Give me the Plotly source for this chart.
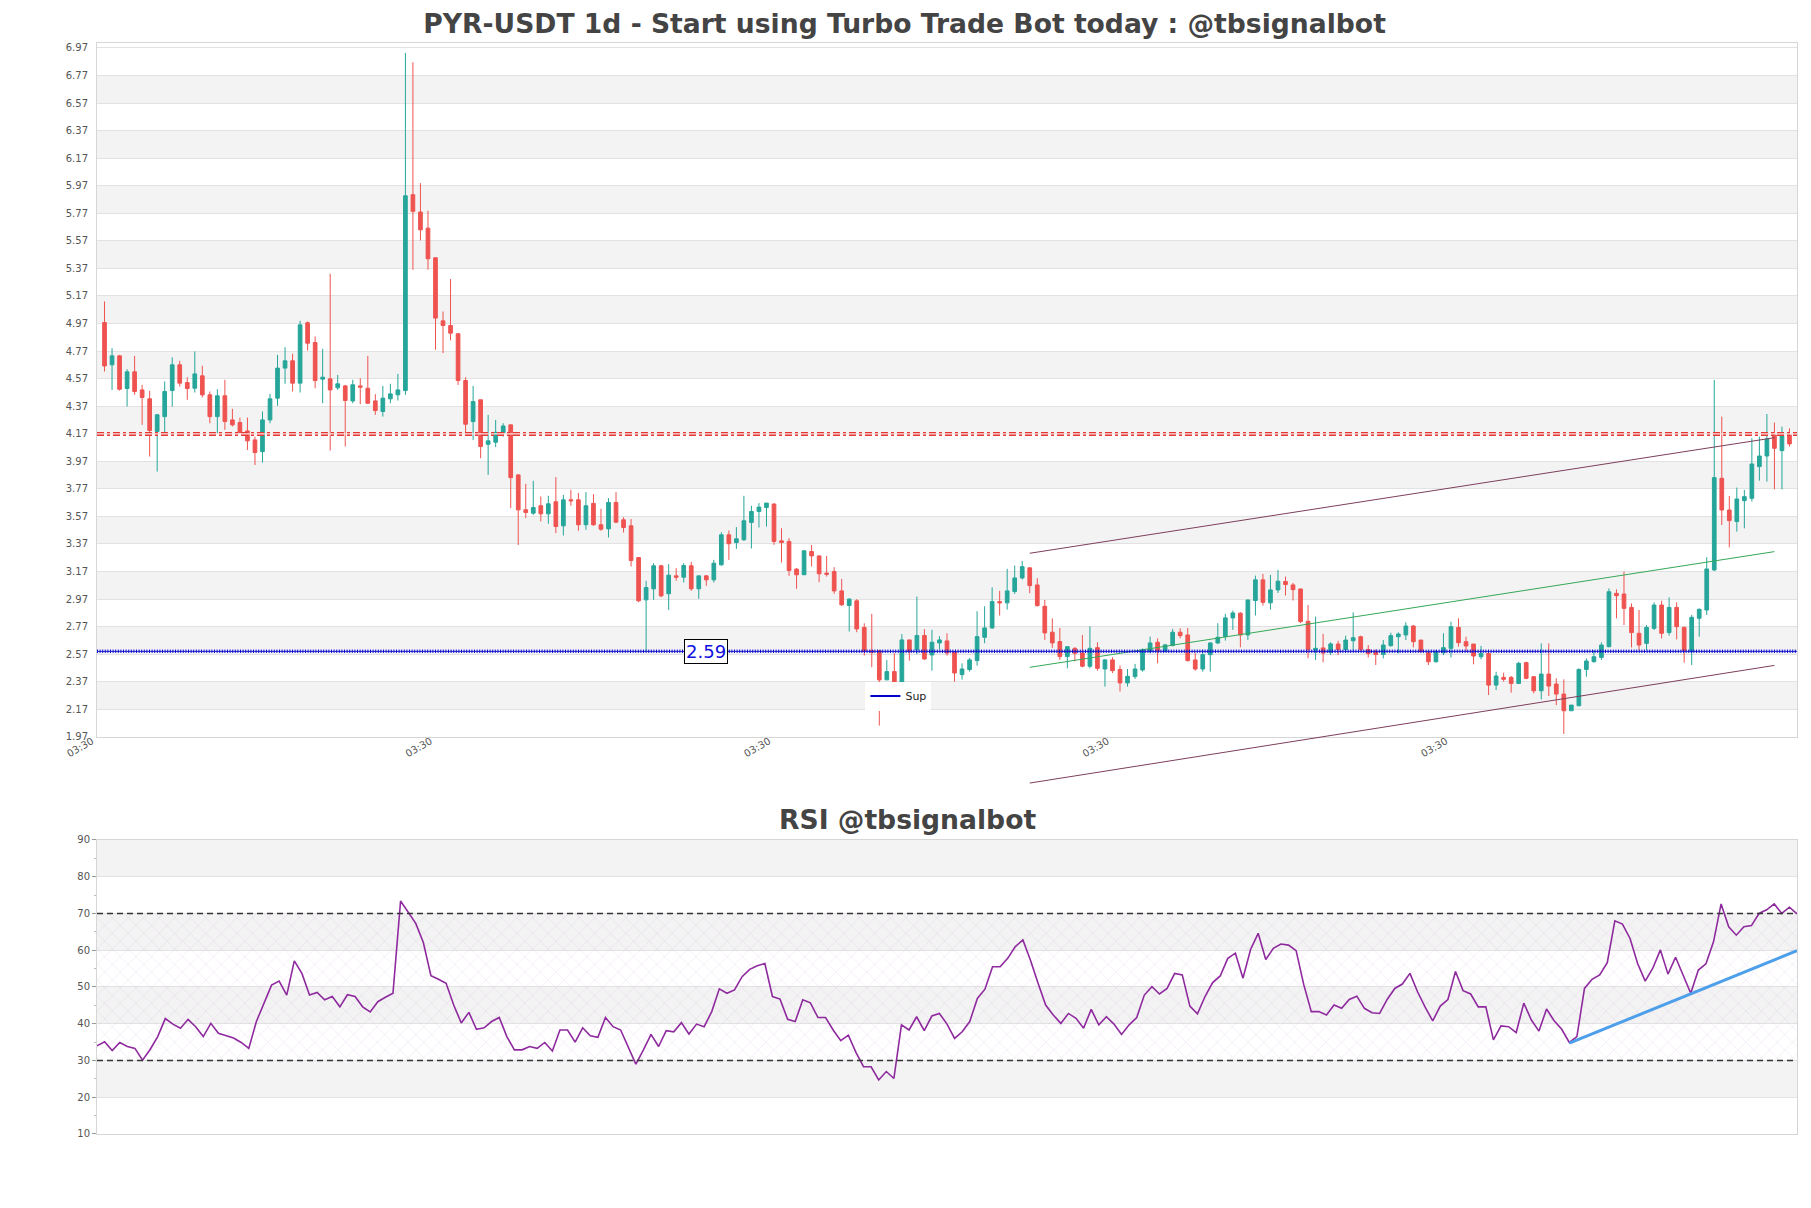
import plotly.graph_objects as go

# ---------------- data ----------------
open_ = [4.977,4.670,4.735,4.498,4.619,4.488,4.423,4.186,4.294,4.483,4.670,4.541,4.500,4.590,4.452,4.294,4.445,4.270,4.251,4.190,
         4.125,4.040,4.270,4.428,4.646,4.699,4.537,4.975,4.832,4.566,4.568,4.503,4.517,4.408,4.517,4.500,4.408,4.331,4.423,4.452,
         4.483,5.905,5.779,5.662,5.447,4.989,4.955,4.895,4.556,4.258,4.416,4.093,4.108,4.178,4.234,3.871,3.618,3.593,3.647,3.588,
         3.676,3.501,3.690,3.690,3.509,3.664,3.509,3.479,3.671,3.545,3.501,3.271,2.964,3.044,3.211,3.008,3.138,3.128,3.211,3.044,
         3.138,3.109,3.218,3.436,3.380,3.400,3.526,3.605,3.634,3.659,3.392,3.388,3.187,3.146,3.315,3.283,3.158,3.170,3.029,2.923,
         2.957,2.763,2.594,2.594,2.383,2.443,2.339,2.673,2.601,2.705,2.564,2.651,2.666,2.588,2.421,2.458,2.523,2.692,2.760,2.951,
         2.942,3.024,3.123,3.196,3.072,2.917,2.729,2.661,2.552,2.612,2.578,2.482,2.617,2.462,2.528,2.458,2.361,2.407,2.455,2.588,
         2.656,2.591,2.632,2.729,2.709,2.528,2.462,2.566,2.651,2.697,2.833,2.867,2.709,2.959,3.109,2.942,3.036,3.097,3.072,3.043,
         2.808,2.600,2.615,2.583,2.643,2.604,2.667,2.696,2.604,2.588,2.568,2.631,2.696,2.709,2.774,2.672,2.580,2.515,2.580,2.612,
         2.764,2.660,2.643,2.551,2.575,2.345,2.401,2.401,2.357,2.508,2.406,2.304,2.425,2.353,2.280,2.159,2.195,2.459,2.515,2.546,
         2.624,3.011,3.006,2.909,2.721,2.648,2.757,2.926,2.726,2.909,2.764,2.588,2.830,2.890,3.181,3.846,3.616,3.532,3.684,3.701,
         3.931,4.008,4.161,4.047,4.161]
high = [5.130,4.791,4.742,4.638,4.735,4.525,4.481,4.314,4.549,4.725,4.699,4.580,4.767,4.663,4.476,4.493,4.561,4.350,4.287,4.287,
        4.149,4.331,4.459,4.742,4.798,4.750,4.989,4.985,4.876,4.786,5.331,4.597,4.525,4.561,4.573,4.735,4.457,4.517,4.532,4.604,
        6.934,6.866,5.989,5.788,5.452,5.057,5.292,4.900,4.580,4.517,4.416,4.307,4.270,4.246,4.234,3.876,3.806,3.828,3.714,3.719,
        3.855,3.726,3.763,3.739,3.746,3.731,3.625,3.702,3.746,3.564,3.550,3.274,3.102,3.230,3.218,3.223,3.194,3.230,3.240,3.138,
        3.143,3.254,3.455,3.467,3.492,3.719,3.647,3.666,3.666,3.666,3.484,3.412,3.194,3.320,3.363,3.283,3.283,3.201,3.116,2.976,
        2.969,2.794,2.862,2.601,2.528,2.577,2.715,2.673,2.988,2.751,2.746,2.700,2.721,2.591,2.503,2.542,2.881,2.917,3.055,3.029,
        3.189,3.213,3.247,3.201,3.121,2.963,2.830,2.760,2.627,2.620,2.709,2.772,2.656,2.535,2.547,2.487,2.462,2.499,2.612,2.697,
        2.685,2.644,2.753,2.758,2.760,2.579,2.603,2.656,2.794,2.862,2.886,2.874,2.966,3.140,3.152,3.145,3.181,3.133,3.087,3.043,
        2.927,2.842,2.717,2.656,2.667,2.704,2.873,2.704,2.636,2.604,2.672,2.725,2.728,2.801,2.781,2.672,2.588,2.600,2.721,2.805,
        2.830,2.696,2.643,2.629,2.580,2.442,2.435,2.411,2.515,2.515,2.411,2.648,2.648,2.394,2.387,2.200,2.466,2.539,2.600,2.655,
        3.047,3.040,3.169,2.938,2.890,2.781,2.946,2.958,2.982,2.946,2.769,2.854,2.902,3.273,4.560,4.294,3.718,3.779,3.762,4.137,
        4.149,4.313,4.251,4.221,4.209]
low = [4.621,4.488,4.483,4.367,4.452,4.234,4.004,3.895,4.178,4.367,4.512,4.416,4.469,4.433,4.246,4.173,4.198,4.222,4.169,4.052,
       3.943,3.960,4.246,4.372,4.532,4.476,4.469,4.774,4.500,4.391,4.048,4.488,4.077,4.391,4.384,4.386,4.307,4.294,4.391,4.411,
       4.452,5.360,5.573,5.360,4.779,4.755,4.847,4.524,4.173,4.125,3.992,3.871,4.072,4.149,3.629,3.362,3.557,3.581,3.533,3.516,
       3.448,3.431,3.647,3.465,3.472,3.501,3.465,3.417,3.521,3.453,3.206,2.947,2.594,2.964,2.983,2.891,3.102,3.090,3.029,2.971,
       3.066,3.090,3.211,3.254,3.334,3.392,3.337,3.489,3.496,3.363,3.235,3.138,3.044,3.146,3.206,3.092,3.133,3.008,2.920,2.734,
       2.729,2.560,2.475,2.051,2.383,2.335,2.335,2.523,2.569,2.528,2.450,2.603,2.559,2.370,2.385,2.443,2.486,2.649,2.753,2.850,
       2.893,3.007,3.111,3.012,2.915,2.673,2.615,2.528,2.467,2.518,2.474,2.467,2.450,2.334,2.433,2.298,2.334,2.390,2.443,2.576,
       2.503,2.583,2.627,2.685,2.516,2.450,2.443,2.443,2.644,2.668,2.746,2.620,2.673,2.850,2.922,2.893,3.014,2.995,2.959,2.796,
       2.540,2.528,2.511,2.564,2.563,2.580,2.588,2.588,2.546,2.491,2.539,2.624,2.575,2.672,2.619,2.580,2.491,2.508,2.563,2.546,
       2.624,2.588,2.496,2.532,2.273,2.309,2.370,2.290,2.353,2.387,2.285,2.241,2.266,2.200,1.990,2.159,2.193,2.406,2.508,2.527,
       2.619,2.830,2.781,2.619,2.600,2.600,2.745,2.684,2.704,2.677,2.508,2.491,2.696,2.854,3.173,3.507,3.345,3.459,3.483,3.677,
       3.829,3.822,3.766,3.766,4.076]
close = [4.662,4.735,4.493,4.619,4.476,4.433,4.193,4.307,4.476,4.670,4.537,4.498,4.604,4.452,4.294,4.445,4.258,4.234,4.178,4.118,
         4.033,4.270,4.423,4.646,4.699,4.537,4.960,4.827,4.556,4.580,4.488,4.532,4.411,4.525,4.508,4.391,4.338,4.428,4.459,4.488,
         5.897,5.784,5.650,5.440,5.009,4.955,4.900,4.556,4.239,4.403,4.077,4.118,4.180,4.226,3.851,3.617,3.598,3.634,3.588,3.661,
         3.496,3.690,3.683,3.509,3.647,3.509,3.477,3.671,3.528,3.489,3.250,2.957,3.053,3.211,2.993,3.143,3.128,3.213,3.044,3.138,
         3.109,3.230,3.436,3.371,3.407,3.538,3.605,3.637,3.666,3.388,3.380,3.177,3.146,3.320,3.283,3.153,3.150,3.029,2.928,2.969,
         2.753,2.589,2.584,2.383,2.443,2.335,2.673,2.589,2.705,2.535,2.656,2.673,2.578,2.433,2.462,2.528,2.697,2.760,2.951,2.942,
         3.029,3.123,3.205,3.067,2.922,2.724,2.651,2.552,2.624,2.576,2.482,2.612,2.467,2.528,2.450,2.361,2.409,2.462,2.600,2.651,
         2.595,2.637,2.729,2.704,2.523,2.462,2.566,2.651,2.692,2.833,2.869,2.709,2.963,3.109,2.946,3.036,3.099,3.075,3.038,2.806,
         2.603,2.612,2.578,2.644,2.604,2.672,2.689,2.604,2.575,2.568,2.636,2.704,2.716,2.774,2.660,2.588,2.515,2.588,2.617,2.769,
         2.653,2.629,2.556,2.575,2.345,2.411,2.387,2.357,2.503,2.394,2.304,2.425,2.338,2.280,2.159,2.200,2.459,2.520,2.551,2.636,
         3.023,2.994,2.902,2.726,2.636,2.764,2.926,2.721,2.909,2.769,2.595,2.837,2.895,3.188,3.851,3.616,3.539,3.696,3.713,3.950,
         4.008,4.132,4.064,4.156,4.096]
rsi = [34.0,35.1,32.7,34.9,33.8,33.3,30.1,33.0,36.5,41.4,39.9,38.8,41.2,39.2,36.5,40.1,37.4,36.8,36.1,34.9,
       33.3,40.6,45.6,50.5,51.6,47.8,57.1,53.7,47.8,48.5,46.5,47.4,44.6,47.9,47.4,44.6,43.2,46.0,47.2,48.3,
       73.4,70.5,67.3,62.1,53.1,52.1,51.0,45.1,40.2,43.1,38.5,38.9,40.6,41.7,36.5,32.9,32.9,33.8,33.3,34.9,
       32.6,38.3,38.3,35.0,38.9,36.7,36.3,41.7,39.2,38.3,33.8,29.0,32.9,37.1,33.8,38.1,37.8,40.3,37.2,39.9,
       39.2,43.3,49.5,48.3,49.2,52.8,54.8,55.8,56.4,47.4,46.7,41.2,40.6,46.5,45.7,41.7,41.7,38.3,35.4,36.9,
       32.2,28.3,28.3,24.7,27.0,25.1,39.7,38.3,41.9,38.1,42.1,42.8,39.9,36.0,37.8,40.6,46.9,49.4,55.5,55.5,
       57.8,61.0,62.8,57.3,51.0,45.1,42.4,40.1,42.8,41.5,38.8,43.9,39.7,41.9,39.9,37.1,39.7,41.7,47.8,50.1,
       48.1,49.6,53.7,53.3,44.8,42.7,47.4,51.2,53.0,57.8,59.2,52.4,60.2,64.6,57.5,60.5,61.7,61.4,59.9,50.7,
       43.3,43.3,42.4,45.1,44.2,46.6,47.5,44.2,43.0,42.8,46.6,49.6,50.8,53.7,48.7,44.5,40.8,44.8,46.6,54.2,
       49.0,48.1,44.6,44.6,35.6,39.4,39.2,37.6,45.6,41.0,38.0,44.0,40.8,38.5,34.9,36.5,49.6,52.1,53.3,56.6,
       68.0,67.1,63.2,56.4,51.6,55.1,60.1,53.5,58.1,53.3,48.3,54.6,56.3,62.3,72.6,66.4,64.1,66.4,66.7,70.0,
       71.0,72.6,70.0,71.7,69.9]

x_tick_pos = [-1, 44, 89, 134, 179]
x_tick_text = ["03:30", "03:30", "03:30", "03:30", "03:30"]

res_level = 4.168
sup_level = 2.59
sup_label_x = 80

chan_x = [123, 222]
chan_upper = [3.302, 4.141]
chan_mid = [2.474, 3.314]
chan_lower = [1.634, 2.488]

rsi_trend_x = [194, 224]
rsi_trend_y = [34.7, 59.9]
rsi_levels = [30, 70]

title_main = "PYR-USDT 1d - Start using Turbo Trade Bot today : @tbsignalbot"
title_rsi = "RSI @tbsignalbot"

# ---------------- layout constants ----------------
# the page body keeps an 8px margin, so the figure is sized to fit inside it
W, H = 1795, 1192
M_L, M_R, M_T, M_B = 89, 6, 35, 66
main_dom = [0.3641, 1.0]
rsi_dom = [0.0, 0.2695]
y_rng = [1.97, 7.006]
FONT = "DejaVu Sans"
UP, DOWN = "#26a69a", "#ef5350"

idx = list(range(len(close)))

def to_paper(v):
    return main_dom[0] + (v - y_rng[0]) / (y_rng[1] - y_rng[0]) * (main_dom[1] - main_dom[0])

fig = go.Figure()

fig.add_trace(go.Candlestick(
    x=idx, open=open_, high=high, low=low, close=close,
    increasing=dict(line=dict(color=UP, width=1), fillcolor=UP),
    decreasing=dict(line=dict(color=DOWN, width=1), fillcolor=DOWN),
    whiskerwidth=0, showlegend=False, xaxis="x", yaxis="y", hoverinfo="skip"))

for ys, col in [(chan_upper, "#7d3f5c"), (chan_mid, "#35a857")]:
    fig.add_trace(go.Scatter(x=chan_x, y=ys, mode="lines", line=dict(color=col, width=1),
                             showlegend=False, xaxis="x", yaxis="y", hoverinfo="skip"))

# legend-only entry
fig.add_trace(go.Scatter(x=[None], y=[None], mode="lines", name="Sup",
                         line=dict(color="#0000cc", width=2), xaxis="x", yaxis="y"))

# RSI hatched zone 30-70
fig.add_trace(go.Scatter(x=[0, len(rsi) - 1], y=[rsi_levels[0]] * 2, mode="lines", line=dict(width=0),
                         showlegend=False, xaxis="x2", yaxis="y2", hoverinfo="skip"))
fig.add_trace(go.Scatter(x=[0, len(rsi) - 1], y=[rsi_levels[1]] * 2, mode="lines", line=dict(width=0),
                         fill="tonexty", fillcolor="rgba(0,0,0,0)",
                         fillpattern=dict(shape="x", fgcolor="rgba(185,125,210,0.45)", size=11,
                                          solidity=0.1, fillmode="overlay"),
                         showlegend=False, xaxis="x2", yaxis="y2", hoverinfo="skip"))

fig.add_trace(go.Scatter(x=list(range(len(rsi))), y=rsi, mode="lines",
                         line=dict(color="#8e2a9e", width=1.6), showlegend=False,
                         xaxis="x2", yaxis="y2", hoverinfo="skip"))
fig.add_trace(go.Scatter(x=rsi_trend_x, y=rsi_trend_y, mode="lines",
                         line=dict(color="#4e9fe9", width=3), showlegend=False,
                         xaxis="x2", yaxis="y2", hoverinfo="skip"))

shapes = []
# alternating bands main
b = 2.17
while b < 6.9:
    shapes.append(dict(type="rect", xref="x domain", yref="y", x0=0, x1=1, y0=b, y1=b + 0.2,
                       fillcolor="#f3f3f3", line=dict(width=0), layer="below"))
    b += 0.4
for lo in [20, 40, 60, 80]:
    shapes.append(dict(type="rect", xref="x2 domain", yref="y2", x0=0, x1=1, y0=lo, y1=lo + 10,
                       fillcolor="#f3f3f3", line=dict(width=0), layer="below"))

# resistance line (double dashed look)
shapes.append(dict(type="line", xref="x domain", yref="y", x0=0, x1=1, y0=res_level, y1=res_level,
                   line=dict(color="#e53935", width=4, dash="7px,3px,3px,3px")))
shapes.append(dict(type="line", xref="x domain", yref="y", x0=0, x1=1, y0=res_level, y1=res_level,
                   line=dict(color="#fbe3e3", width=1.2)))
# support line
shapes.append(dict(type="line", xref="x domain", yref="y", x0=0, x1=1, y0=sup_level, y1=sup_level,
                   line=dict(color="#1515d0", width=3.5, dash="1px,1.6px")))
shapes.append(dict(type="line", xref="x domain", yref="y", x0=0, x1=1, y0=sup_level, y1=sup_level,
                   line=dict(color="#1515d0", width=1)))
# lower channel line, may extend below the plot
shapes.append(dict(type="line", xref="x", yref="paper", x0=chan_x[0], x1=chan_x[1],
                   y0=to_paper(chan_lower[0]), y1=to_paper(chan_lower[1]),
                   line=dict(color="#7d3f5c", width=1)))
# RSI levels
for lv in rsi_levels:
    shapes.append(dict(type="line", xref="x2 domain", yref="y2", x0=0, x1=1, y0=lv, y1=lv,
                       line=dict(color="#333333", width=1.3, dash="6px,4px")))

plot_h = H - M_T - M_B
annotations = [
    dict(x=sup_label_x, y=sup_level, xref="x", yref="y", text=f"{sup_level:.2f}", showarrow=False,
         font=dict(family=FONT, size=18, color="#1010e0"), bgcolor="white",
         bordercolor="black", borderwidth=1, borderpad=1),
    dict(x=0.4765, y=(H - M_B - 811) / plot_h, xref="paper", yref="paper", text=title_rsi,
         showarrow=False, yanchor="middle", xanchor="center",
         font=dict(family=FONT, size=26.6, color="#444444", weight="bold")),
]

axis_line = "#d6d6d6"
grid = "#e2e2e2"
fig.update_layout(
    width=W, height=H, autosize=False,
    margin=dict(l=M_L, r=M_R, t=M_T, b=M_B),
    paper_bgcolor="white", plot_bgcolor="white",
    font=dict(family=FONT, color="#444444"),
    title=dict(text=title_main, x=0.4995, xref="container", xanchor="center",
               y=1 - 16 / H, yref="container", yanchor="middle",
               font=dict(family=FONT, size=26.6, color="#444444", weight="bold")),
    showlegend=True,
    legend=dict(x=0.452, y=0.4147, xanchor="left", yanchor="top", bgcolor="rgba(255,255,255,0.95)",
                font=dict(family=FONT, size=11, color="#222"), itemwidth=30,
                borderwidth=0),
    xaxis=dict(domain=[0, 1], anchor="y", range=[-1, len(close)], tickmode="array",
               tickvals=x_tick_pos, ticktext=x_tick_text, tickangle=-30,
               tickfont=dict(size=10, color="#555"), showgrid=False, zeroline=False,
               showline=True, mirror=True, linecolor=axis_line, rangeslider=dict(visible=False),
               ticklabelstandoff=-6, ticklabelshift=-5),
    yaxis=dict(domain=main_dom, anchor="x", range=y_rng, tick0=1.97, dtick=0.2, tickformat=".2f",
               tickfont=dict(size=10, color="#555"), gridcolor=grid, zeroline=False,
               showline=True, mirror=True, linecolor=axis_line, ticklabelstandoff=6),
    xaxis2=dict(domain=[0, 1], anchor="y2", range=[0, len(rsi) - 1], showticklabels=False,
                showgrid=False, zeroline=False, showline=True, mirror=True, linecolor=axis_line),
    yaxis2=dict(domain=rsi_dom, anchor="x2", range=[10, 90], dtick=10,
                tickfont=dict(size=10, color="#555"), gridcolor=grid, zeroline=False,
                showline=True, mirror=True, linecolor=axis_line,
                ticks="outside", ticklen=4, tickcolor="#999",
                minor=dict(ticks="outside", dtick=5, ticklen=2, tickcolor="#bbb")),
    shapes=shapes, annotations=annotations,
)

fig.write_html("out.html")
